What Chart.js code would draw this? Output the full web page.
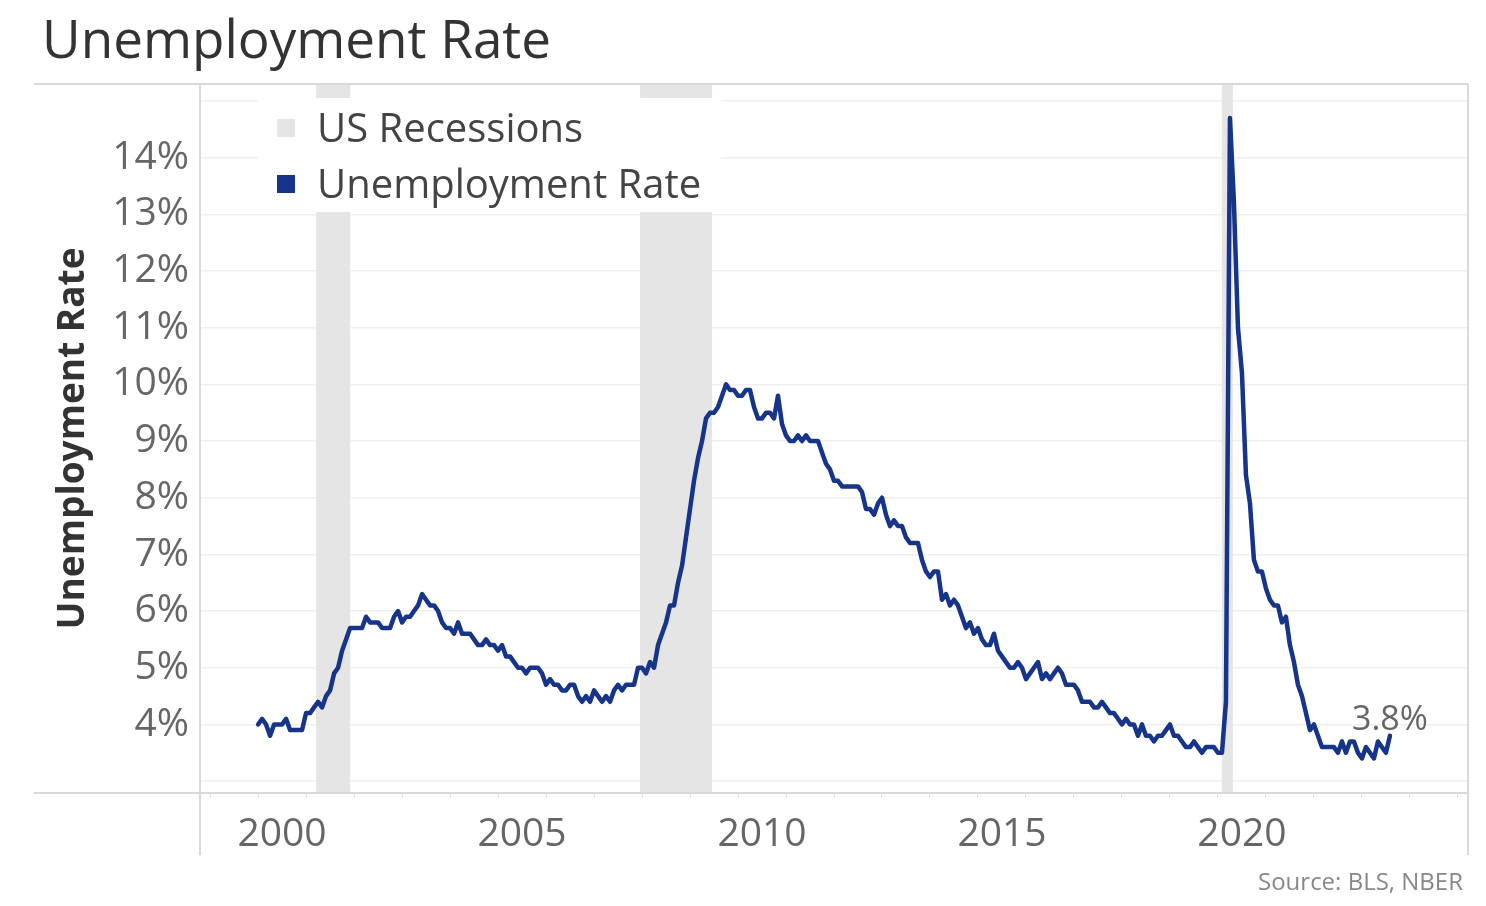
<!DOCTYPE html>
<html>
<head>
<meta charset="utf-8">
<title>Unemployment Rate</title>
<script src="https://cdn.jsdelivr.net/npm/chart.js@4.4.0/dist/chart.umd.min.js"></script>
<style>
  html, body { margin: 0; padding: 0; background: #fff; }
  body { width: 1486px; height: 906px; position: relative; overflow: hidden; font-family: "Open Sans", sans-serif; }
  #wrap { position: absolute; left: 0; top: 0; width: 1486px; height: 906px; }
  h1 { position: absolute; left: 42px; top: 11px; margin: 0; font-weight: 400; font-size: 53px; line-height: 1; color: #333; }
  .source { position: absolute; right: 23px; top: 869px; font-size: 24px; line-height: 1; color: #888; }
</style>
</head>
<body>
<h1>Unemployment Rate</h1>
<div id="wrap"><canvas id="chart"></canvas></div>
<div class="source">Source: BLS, NBER</div>
<script>
// monthly series, Jan 2000 .. Aug 2023
const startYear = 2000;
const unemployment = [
  4.0, 4.1, 4.0, 3.8, 4.0, 4.0, 4.0, 4.1, 3.9, 3.9, 3.9, 3.9,   // 2000
  4.2, 4.2, 4.3, 4.4, 4.3, 4.5, 4.6, 4.9, 5.0, 5.3, 5.5, 5.7,   // 2001
  5.7, 5.7, 5.7, 5.9, 5.8, 5.8, 5.8, 5.7, 5.7, 5.7, 5.9, 6.0,   // 2002
  5.8, 5.9, 5.9, 6.0, 6.1, 6.3, 6.2, 6.1, 6.1, 6.0, 5.8, 5.7,   // 2003
  5.7, 5.6, 5.8, 5.6, 5.6, 5.6, 5.5, 5.4, 5.4, 5.5, 5.4, 5.4,   // 2004
  5.3, 5.4, 5.2, 5.2, 5.1, 5.0, 5.0, 4.9, 5.0, 5.0, 5.0, 4.9,   // 2005
  4.7, 4.8, 4.7, 4.7, 4.6, 4.6, 4.7, 4.7, 4.5, 4.4, 4.5, 4.4,   // 2006
  4.6, 4.5, 4.4, 4.5, 4.4, 4.6, 4.7, 4.6, 4.7, 4.7, 4.7, 5.0,   // 2007
  5.0, 4.9, 5.1, 5.0, 5.4, 5.6, 5.8, 6.1, 6.1, 6.5, 6.8, 7.3,   // 2008
  7.8, 8.3, 8.7, 9.0, 9.4, 9.5, 9.5, 9.6, 9.8, 10.0, 9.9, 9.9,  // 2009
  9.8, 9.8, 9.9, 9.9, 9.6, 9.4, 9.4, 9.5, 9.5, 9.4, 9.8, 9.3,   // 2010
  9.1, 9.0, 9.0, 9.1, 9.0, 9.1, 9.0, 9.0, 9.0, 8.8, 8.6, 8.5,   // 2011
  8.3, 8.3, 8.2, 8.2, 8.2, 8.2, 8.2, 8.1, 7.8, 7.8, 7.7, 7.9,   // 2012
  8.0, 7.7, 7.5, 7.6, 7.5, 7.5, 7.3, 7.2, 7.2, 7.2, 6.9, 6.7,   // 2013
  6.6, 6.7, 6.7, 6.2, 6.3, 6.1, 6.2, 6.1, 5.9, 5.7, 5.8, 5.6,   // 2014
  5.7, 5.5, 5.4, 5.4, 5.6, 5.3, 5.2, 5.1, 5.0, 5.0, 5.1, 5.0,   // 2015
  4.8, 4.9, 5.0, 5.1, 4.8, 4.9, 4.8, 4.9, 5.0, 4.9, 4.7, 4.7,   // 2016
  4.7, 4.6, 4.4, 4.4, 4.4, 4.3, 4.3, 4.4, 4.3, 4.2, 4.2, 4.1,   // 2017
  4.0, 4.1, 4.0, 4.0, 3.8, 4.0, 3.8, 3.8, 3.7, 3.8, 3.8, 3.9,   // 2018
  4.0, 3.8, 3.8, 3.7, 3.6, 3.6, 3.7, 3.6, 3.5, 3.6, 3.6, 3.6,   // 2019
  3.5, 3.5, 4.4, 14.7, 13.2, 11.0, 10.2, 8.4, 7.9, 6.9, 6.7, 6.7, // 2020
  6.4, 6.2, 6.1, 6.1, 5.8, 5.9, 5.4, 5.1, 4.7, 4.5, 4.2, 3.9,   // 2021
  4.0, 3.8, 3.6, 3.6, 3.6, 3.6, 3.5, 3.7, 3.5, 3.7, 3.7, 3.5,   // 2022
  3.4, 3.6, 3.5, 3.4, 3.7, 3.6, 3.5, 3.8                        // 2023
];

// NBER recessions, in fractional years
const recessionStart = [2001.21, 2007.96, 2020.08];
const recessionEnd   = [2001.92, 2009.46, 2020.31];

const yTickValues = [3, 4, 5, 6, 7, 8, 9, 10, 11, 12, 13, 14, 15];
const yLabelled = [4, 5, 6, 7, 8, 9, 10, 11, 12, 13, 14];
const yearTicks = [1999, 2000, 2001, 2002, 2003, 2004, 2005, 2006, 2007, 2008, 2009, 2010, 2011, 2012,
  2013, 2014, 2015, 2016, 2017, 2018, 2019, 2020, 2021, 2022, 2023, 2024, 2025];
const xLabelYears = [2000, 2005, 2010, 2015, 2020];
const legendLabels = ['US Recessions', 'Unemployment Rate'];

const lineColor = '#15348a';
const recessionColor = '#e5e5e5';
const frameColor = '#d9d9d9';
const fontFamily = '"Open Sans", sans-serif';

const points = unemployment.map((v, i) => ({ x: startYear + i / 12, y: v }));

const backdrop = {
  id: 'backdrop',
  beforeDatasetsDraw(chart) {
    const { ctx, chartArea: a, scales: { x } } = chart;
    ctx.save();
    // recession bands
    ctx.fillStyle = recessionColor;
    recessionStart.forEach((s, i) => {
      const x0 = x.getPixelForValue(s);
      const x1 = x.getPixelForValue(recessionEnd[i]);
      ctx.fillRect(x0, a.top, x1 - x0, a.bottom - a.top);
    });
    // frame lines
    ctx.strokeStyle = frameColor;
    ctx.lineWidth = 2;
    ctx.beginPath();
    ctx.moveTo(34, a.top); ctx.lineTo(a.right, a.top);
    ctx.moveTo(34, a.bottom); ctx.lineTo(a.right, a.bottom);
    ctx.moveTo(a.left, a.top); ctx.lineTo(a.left, x.bottom);
    ctx.moveTo(a.right, a.top); ctx.lineTo(a.right, x.bottom);
    ctx.stroke();
    // legend
    const lx = a.left + 58, ly = a.top + 14;
    ctx.fillStyle = '#fff';
    ctx.fillRect(lx, ly, 463, 114);
    const swatches = [recessionColor, lineColor];
    ctx.font = '40px ' + fontFamily;
    ctx.textBaseline = 'middle';
    legendLabels.forEach((t, i) => {
      const cy = ly + 30 + i * 56;
      ctx.fillStyle = swatches[i];
      ctx.fillRect(lx + 19, cy - 9, 18, 18);
      ctx.fillStyle = '#444';
      ctx.fillText(t, lx + 59, cy + 3);
    });
    ctx.restore();
  },
  afterDatasetsDraw(chart) {
    const { ctx, scales: { x, y } } = chart;
    const last = points[points.length - 1];
    ctx.save();
    ctx.font = '34px ' + fontFamily;
    ctx.fillStyle = '#666';
    ctx.textAlign = 'center';
    ctx.textBaseline = 'alphabetic';
    ctx.fillText(last.y.toFixed(1) + '%', x.getPixelForValue(last.x), y.getPixelForValue(last.y) - 6);
    ctx.restore();
  }
};

new Chart(document.getElementById('chart'), {
  type: 'line',
  data: {
    datasets: [{
      label: 'Unemployment Rate',
      data: points,
      borderColor: lineColor,
      borderWidth: 4.5,
      pointRadius: 0,
      tension: 0,
      borderJoinStyle: 'round',
      borderCapStyle: 'round'
    }]
  },
  options: {
    responsive: true,
    maintainAspectRatio: false,
    animation: false,
    layout: { padding: { left: 34, right: 18, top: 84, bottom: 51 } },
    plugins: { legend: { display: false }, tooltip: { enabled: false } },
    scales: {
      x: {
        type: 'linear',
        min: 1998.79,
        max: 2025.21,
        afterBuildTicks: s => { s.ticks = yearTicks.map(v => ({ value: v })); },
        afterFit: s => { s.height = 62; },
        border: { display: false },
        grid: { drawOnChartArea: false, tickLength: 5, color: '#e2e2e2' },
        ticks: {
          autoSkip: false, maxRotation: 0, labelOffset: 24, padding: 13,
          color: '#666', font: { family: fontFamily, size: 39 },
          callback: v => xLabelYears.includes(v) ? String(v) : ''
        }
      },
      y: {
        min: 2.79,
        max: 15.3,
        afterBuildTicks: s => { s.ticks = yTickValues.map(v => ({ value: v })); },
        afterFit: s => { s.width = 166; },
        border: { display: false },
        grid: { color: '#f0f0f0', lineWidth: 1.5, drawTicks: false },
        ticks: {
          padding: 11, color: '#666', font: { family: fontFamily, size: 39 },
          callback: v => yLabelled.includes(v) ? v + '%' : ''
        },
        title: {
          display: true, text: 'Unemployment Rate', color: '#333',
          font: { family: fontFamily, size: 37, weight: 'bold' },
          padding: { top: 17, bottom: 0 }
        }
      }
    }
  },
  plugins: [backdrop]
});
</script>
</body>
</html>
